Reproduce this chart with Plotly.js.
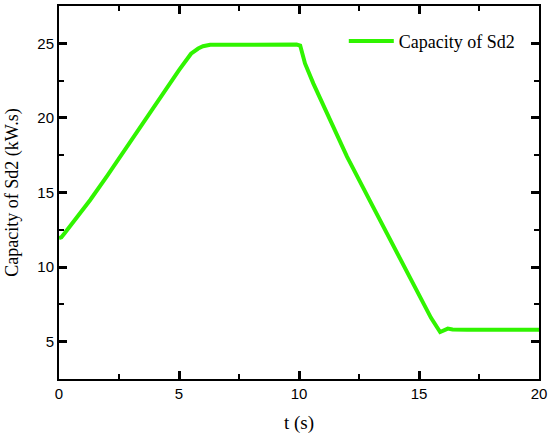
<!DOCTYPE html>
<html>
<head>
<meta charset="utf-8">
<script src="https://cdn.plot.ly/plotly-3.0.1.min.js"></script>
<style>
  body { margin: 0; background: #fff; }
  #chart { width: 550px; height: 434px; }
</style>
</head>
<body>
<div id="chart"></div>
<script>
  // time (s) and capacity of Sd2 (kW.s)
  var tSec = [0, 0.1, 0.25, 0.6, 1.3, 2, 3, 4, 5, 5.5, 5.8, 6.0, 6.3, 7, 8, 9, 9.9,
    10.05, 10.15, 10.25, 10.6, 11, 11.5, 12, 13, 14, 15, 15.5, 15.88, 16.05, 16.2,
    16.4, 16.6, 17, 18, 19, 20];
  var capSd2 = [11.95, 12.0, 12.3, 13.0, 14.5, 16.1, 18.5, 20.9, 23.2, 24.3, 24.65, 24.8, 24.9, 24.9, 24.92, 24.9, 24.92,
    24.85, 24.3, 23.65, 22.3, 20.9, 19.1, 17.4, 14.3, 11.2, 8.1, 6.6, 5.65, 5.75, 5.88,
    5.82, 5.8, 5.8, 5.8, 5.8, 5.8];

  var serif = 'Liberation Serif, Times New Roman, serif';

  var trace = {
    x: tSec,
    y: capSd2,
    type: 'scatter',
    mode: 'lines',
    name: 'Capacity of Sd2',
    line: { color: '#30f400', width: 4 }
  };

  var layout = {
    width: 550,
    height: 434,
    margin: { l: 59, r: 11, t: 6, b: 55 },
    showlegend: true,
    legend: {
      x: 0.96, y: 0.955, xanchor: 'right', yanchor: 'top',
      itemwidth: 45,
      bgcolor: 'rgba(0,0,0,0)',
      font: { family: serif, size: 18, color: '#000' }
    },
    xaxis: {
      range: [0, 20],
      dtick: 5,
      showline: true, linecolor: '#000', linewidth: 2, mirror: 'allticks',
      ticks: 'inside', ticklen: 8, tickwidth: 2.5, tickcolor: '#000',
      minor: { ticks: 'inside', ticklen: 5, tickwidth: 2, tickcolor: '#000', dtick: 2.5 },
      showgrid: false, zeroline: false,
      tickfont: { family: 'Liberation Sans, Arial, sans-serif', size: 15, color: '#000' },
      title: { text: 't (s)', font: { family: serif, size: 19, color: '#000' }, standoff: 18 }
    },
    yaxis: {
      range: [2.5, 27.5],
      dtick: 5,
      showline: true, linecolor: '#000', linewidth: 2, mirror: 'allticks',
      ticks: 'inside', ticklen: 8, tickwidth: 2.5, tickcolor: '#000',
      minor: { ticks: 'inside', ticklen: 5, tickwidth: 2, tickcolor: '#000', dtick: 2.5 },
      showgrid: false, zeroline: false,
      tickfont: { family: 'Liberation Sans, Arial, sans-serif', size: 15, color: '#000' },
      title: { text: 'Capacity of Sd2 (kW.s)', font: { family: serif, size: 18, color: '#000' }, standoff: 14 }
    }
  };

  Plotly.newPlot('chart', [trace], layout, { displayModeBar: false });
</script>
</body>
</html>
